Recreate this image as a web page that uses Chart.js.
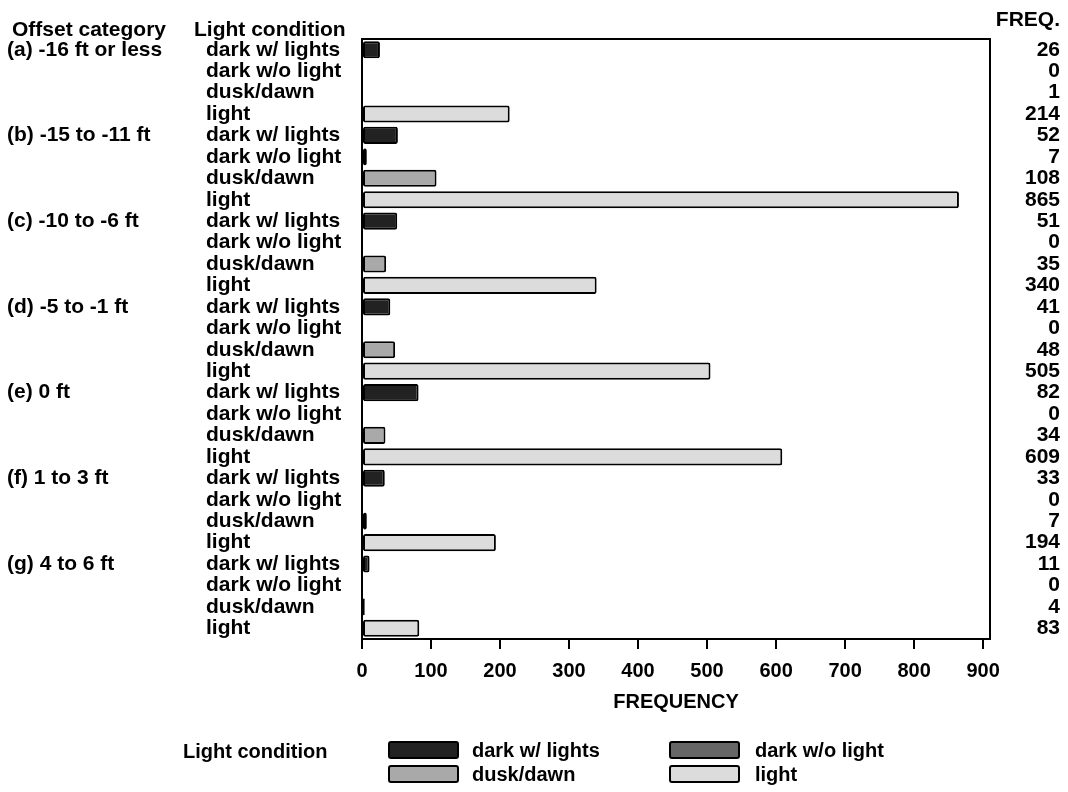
<!DOCTYPE html>
<html><head><meta charset="utf-8">
<script src="https://cdn.jsdelivr.net/npm/chart.js@4/dist/chart.umd.min.js"></script>
<style>html,body{margin:0;padding:0;background:#fff;}#wrap{width:1068px;height:792px;position:relative;}canvas{display:block;}</style>
</head><body><div id="wrap"><canvas id="c" width="1068" height="792"></canvas></div>
<script>
// ---- data ----
const offsetCategories = ['(a) -16 ft or less','(b) -15 to -11 ft','(c) -10 to -6 ft','(d) -5 to -1 ft','(e) 0 ft','(f) 1 to 3 ft','(g) 4 to 6 ft'];
const lightConditions = ['dark w/ lights','dark w/o light','dusk/dawn','light'];
const darkWithLights   = [26, 52, 51, 41, 82, 33, 11];
const darkWithoutLight = [0, 7, 0, 0, 0, 0, 0];
const duskDawn         = [1, 108, 35, 48, 34, 7, 4];
const daylight         = [214, 865, 340, 505, 609, 194, 83];
const xTickValues = [0,100,200,300,400,500,600,700,800,900];
const colors = ['#222222','#666666','#a9a9a9','#dcdcdc'];

const series = [darkWithLights, darkWithoutLight, duskDawn, daylight];
const FONT = "'Liberation Sans', Arial, Helvetica, sans-serif";

// ---- build rows (category x light condition) ----
const rowLabels = [], offsetLabels = [], freqLabels = [];
offsetCategories.forEach((oc, i) => {
  lightConditions.forEach((lc, j) => {
    rowLabels.push(lc);
    offsetLabels.push(j === 0 ? oc : '');
    freqLabels.push(String(series[j][i]));
  });
});
const datasets = lightConditions.map((lc, j) => ({
  label: lc,
  data: rowLabels.map((_, r) => (r % 4 === j ? series[j][Math.floor(r / 4)] : null)),
  backgroundColor: colors[j],
  borderColor: '#000',
  borderWidth: 2,
  borderSkipped: false,
  borderRadius: 2,
  grouped: false,
  barPercentage: 0.8,
  categoryPercentage: 1
}));

const catAxis = (w, pos, weight, extra) => Object.assign({
  type: 'category', position: pos, weight: weight, offset: true,
  grid: { display: false, drawTicks: false },
  border: { display: false },
  ticks: { autoSkip: false, crossAlign: 'far', padding: 0, color: '#000', font: { family: FONT, size: 21, weight: 'bold' } },
  afterFit(s) { s.width = w; }
}, extra || {});

const framePlugin = {
  id: 'frame',
  afterDatasetsDraw(chart) {
    const { ctx, chartArea: a } = chart;
    ctx.save();
    ctx.strokeStyle = '#000';
    ctx.lineWidth = 2;
    ctx.strokeRect(a.left, a.top, a.right - a.left, a.bottom - a.top);
    ctx.restore();
  },
  afterDraw(chart) {
    const ctx = chart.ctx;
    ctx.save();
    ctx.fillStyle = '#000';
    ctx.textBaseline = 'middle';
    ctx.font = 'bold 21px ' + FONT;
    ctx.textAlign = 'left';
    ctx.fillText('Offset category', 12, 30);
    ctx.fillText('Light condition', 194, 30);
    ctx.textAlign = 'right';
    ctx.fillText('FREQ.', 1060, 20);
    // legend
    ctx.font = 'bold 20px ' + FONT;
    ctx.textAlign = 'left';
    ctx.fillText('Light condition', 183, 752);
    const pos = [[388, 741, 472], [669, 741, 755], [388, 765, 472], [669, 765, 755]];
    chart.data.datasets.forEach((ds, j) => {
      const [bx, by, tx] = pos[j];
      ctx.beginPath();
      ctx.roundRect(bx + 1, by + 1, 69, 16, 2);
      ctx.fillStyle = ds.backgroundColor;
      ctx.fill();
      ctx.lineWidth = 2;
      ctx.strokeStyle = '#000';
      ctx.stroke();
      ctx.fillStyle = '#000';
      ctx.fillText(ds.label, tx, by + 10);
    });
    ctx.restore();
  }
};

new Chart(document.getElementById('c'), {
  type: 'bar',
  data: { labels: rowLabels, datasets: datasets },
  options: {
    indexAxis: 'y',
    responsive: false,
    animation: false,
    devicePixelRatio: 1,
    layout: { padding: { left: 7, right: 8, top: 39, bottom: 73 } },
    plugins: { legend: { display: false }, tooltip: { enabled: false } },
    scales: {
      x: {
        type: 'linear', position: 'bottom', min: 0, max: 910,
        afterBuildTicks(s) { s.ticks = xTickValues.map(v => ({ value: v })); },
        ticks: { stepSize: 100, includeBounds: false, padding: 10, maxRotation: 0, color: '#000', font: { family: FONT, size: 20, weight: 'bold' } },
        grid: { drawOnChartArea: false, color: '#000', lineWidth: 2, tickLength: 10 },
        border: { color: '#000', width: 2 },
        title: { display: true, text: 'FREQUENCY', color: '#000', font: { family: FONT, size: 20, weight: 'bold' }, padding: { top: 0, bottom: 5 } },
        afterFit(s) { s.height = 80; }
      },
      y: catAxis(156, 'left', 0),
      y2: catAxis(199, 'left', 1, { labels: offsetLabels }),
      y3: catAxis(70, 'right', 0, { labels: freqLabels })
    }
  },
  plugins: [framePlugin]
});
</script>
</body></html>
